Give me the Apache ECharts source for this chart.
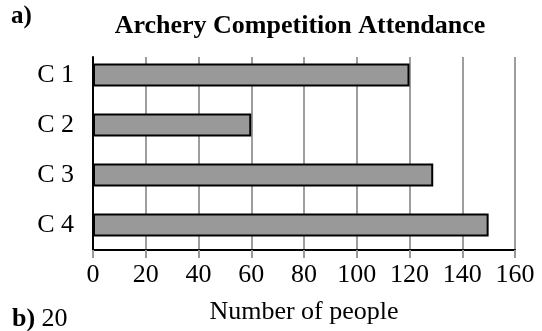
<!DOCTYPE html>
<html>
<head>
<meta charset="utf-8">
<script src="https://cdn.jsdelivr.net/npm/echarts@6/dist/echarts.min.js"></script>
<style>html,body{margin:0;padding:0;background:#fff;}#c{width:542px;height:331px;}</style>
</head>
<body>
<div id="c"></div>
<script>
var categories = ['C 1', 'C 2', 'C 3', 'C 4'];
var attendance = [120, 60, 129, 150];
var xTicks = [0, 20, 40, 60, 80, 100, 120, 140, 160];
var titleText = 'Archery Competition Attendance';
var xAxisName = 'Number of people';

var FONT = '"Liberation Serif", "Times New Roman", serif';
var xMin = xTicks[0], xMax = xTicks[xTicks.length - 1], xStep = xTicks[1] - xTicks[0];
var chart = echarts.init(document.getElementById('c'), null, {renderer: 'canvas'});
chart.setOption({
  animation: false,
  backgroundColor: '#ffffff',
  title: {
    text: titleText,
    left: 295, top: 8, textAlign: 'center',
    textStyle: {fontFamily: FONT, fontSize: 26, fontWeight: 'bold', color: '#000'}
  },
  graphic: [
    {type: 'text', left: 11, top: 4, style: {text: 'a)', font: 'bold 25px ' + FONT, fill: '#000'}},
    {type: 'text', left: 12, top: 306, style: {
      text: '{b|b) }{n|20}',
      rich: {
        b: {fontFamily: FONT, fontSize: 26, fontWeight: 'bold', color: '#000'},
        n: {fontFamily: FONT, fontSize: 26, color: '#000'}
      }
    }}
  ],
  grid: [
    {left: 93, right: 27, top: 57, bottom: 81, containLabel: false},
    {left: 93, right: 27, top: 50, bottom: 81, containLabel: false}
  ],
  xAxis: [{
    gridIndex: 0,
    type: 'value', min: xMin, max: xMax, interval: xStep,
    name: xAxisName, nameLocation: 'middle', nameGap: 49,
    nameTextStyle: {fontFamily: FONT, fontSize: 26, color: '#000'},
    axisLine: {show: true, lineStyle: {color: '#000', width: 2}},
    axisTick: {show: true, length: 8, lineStyle: {color: '#999', width: 2}},
    axisLabel: {fontFamily: FONT, fontSize: 26, color: '#000', margin: 12},
    splitLine: {show: true, lineStyle: {color: '#9e9e9e', width: 2}}
  }, {
    gridIndex: 1,
    type: 'value', min: xMin, max: xMax, interval: xStep, show: false
  }],
  yAxis: [{
    gridIndex: 0,
    type: 'value', min: 0, max: 1,
    axisLine: {show: true, lineStyle: {color: '#000', width: 2}},
    axisTick: {show: false}, axisLabel: {show: false}, splitLine: {show: false}
  }, {
    gridIndex: 1,
    type: 'category', data: categories, inverse: true,
    axisLine: {show: false},
    axisTick: {show: false},
    axisLabel: {fontFamily: FONT, fontSize: 26, color: '#000', margin: 19},
    splitLine: {show: false}
  }],
  series: [{
    type: 'bar', data: attendance, barWidth: 23,
    xAxisIndex: 1, yAxisIndex: 1, z: 3,
    itemStyle: {color: '#999999', borderColor: '#000', borderWidth: 2}
  }]
});
</script>
</body>
</html>
